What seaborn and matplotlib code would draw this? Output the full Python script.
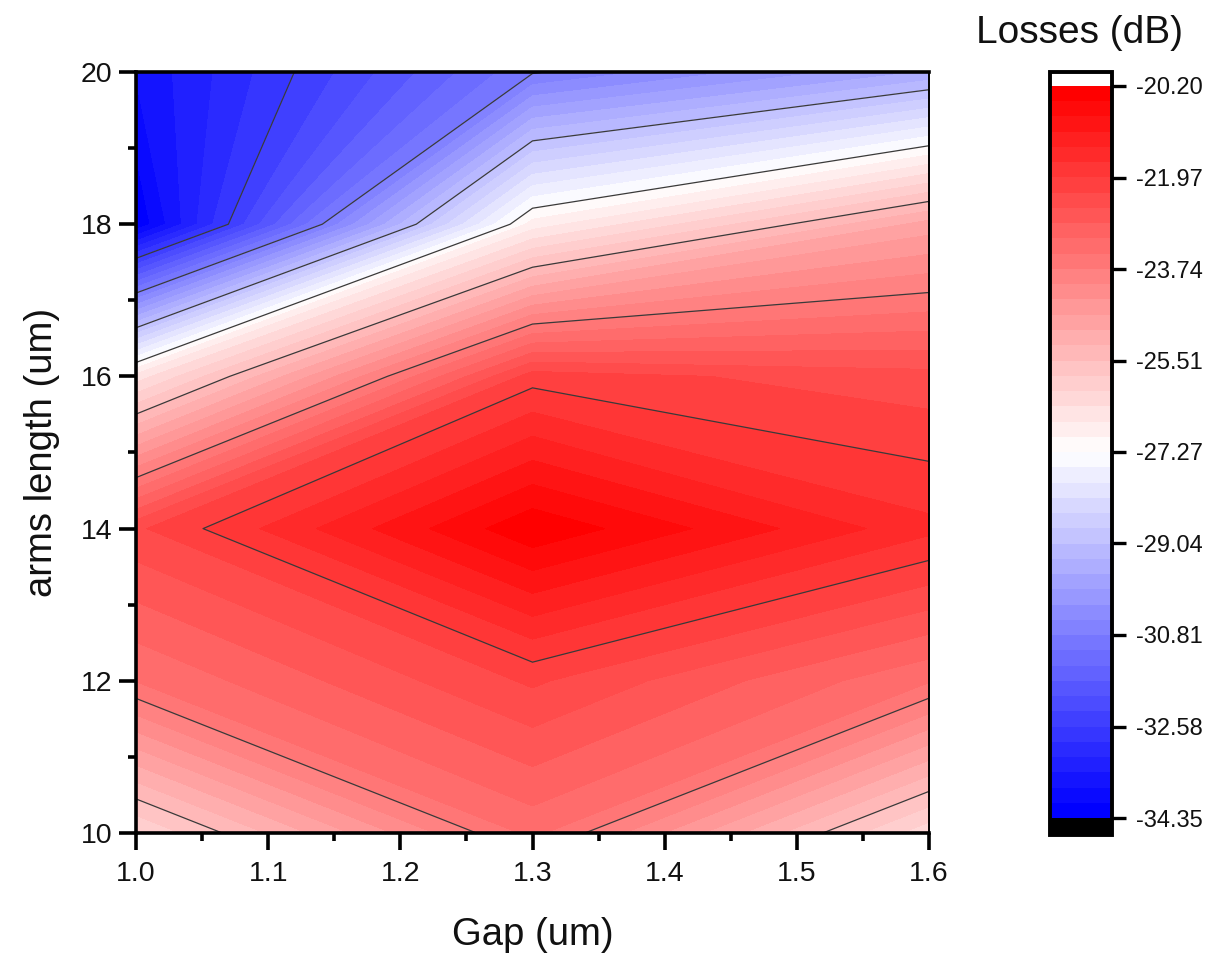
import numpy as np
import matplotlib
matplotlib.use("Agg")
import matplotlib.pyplot as plt
from matplotlib.colors import ListedColormap
from matplotlib.ticker import MultipleLocator
import seaborn as sns

sns.set_theme(style="ticks")
plt.rcParams.update({
    "font.family": ["Liberation Sans", "DejaVu Sans"],
    "text.color": "#111111",
    "axes.labelcolor": "#111111",
    "axes.edgecolor": "black",
    "xtick.color": "black",
    "ytick.color": "black",
    "xtick.labelcolor": "#111111",
    "ytick.labelcolor": "#111111",
})

# data
gap = [1.0, 1.3, 1.6]
arms = [10, 12, 14, 16, 18, 20]
loss_gap_10 = [-26.11, -23.43, -22.32, -26.56, -34.32, -33.73]
loss_gap_13 = [-23.35, -22.21, -20.25, -22.11, -26.85, -30.85]
loss_gap_16 = [-26.30, -23.41, -21.59, -22.45, -24.79, -29.60]

bar_ticks = [-34.35, -32.58, -30.81, -29.04, -27.27, -25.51, -23.74, -21.97, -20.20]
bar_labels = ["-34.35", "-32.58", "-30.81", "-29.04", "-27.27", "-25.51", "-23.74", "-21.97", "-20.20"]
line_levels = bar_ticks[1:-1]
n_bands = 48

W, H = 1213, 955


def px_axes(fig, left, top, right, bottom):
    return fig.add_axes([left / W, 1 - bottom / H, (right - left) / W, (bottom - top) / H])


Z = np.array([loss_gap_10, loss_gap_13, loss_gap_16]).T
band_levels = np.linspace(bar_ticks[0], bar_ticks[-1], n_bands + 1)
colors = sns.blend_palette(["#0000ff", "#ffffff", "#ff0000"], n_colors=n_bands)
cmap = ListedColormap(colors).with_extremes(over="white", under="black")

fig = plt.figure(figsize=(W / 100, H / 100), dpi=100)
ax = px_axes(fig, 136, 72, 929, 833)

cf = ax.contourf(gap, arms, Z, levels=band_levels, cmap=cmap, extend="both")
ax.contour(gap, arms, Z, levels=line_levels, colors="#3a3a3a", linewidths=0.9, linestyles="solid")

ax.set_xlim(1.0, 1.6)
ax.set_ylim(10, 20)
ax.xaxis.set_major_locator(MultipleLocator(0.1))
ax.xaxis.set_minor_locator(MultipleLocator(0.05))
ax.yaxis.set_major_locator(MultipleLocator(2))
ax.yaxis.set_minor_locator(MultipleLocator(1))
ax.tick_params(which="major", length=12, width=2.6, labelsize=20.5)
ax.tick_params(axis="x", which="major", pad=8)
ax.tick_params(axis="y", which="major", pad=5)
ax.tick_params(which="minor", length=6, width=2.6)
for s in ax.spines.values():
    s.set_linewidth(2.6)
ax.spines["right"].set_linewidth(1.4)

ax.set_xlabel("Gap (um)", fontsize=27.5, labelpad=22)
ax.set_ylabel("arms length (um)", fontsize=27.5, labelpad=15)

cax = px_axes(fig, 1050, 72, 1112, 835)
cb = fig.colorbar(cf, cax=cax, extend="both", extendrect=True, extendfrac=[0.023, 0.019])
cb.set_ticks(bar_ticks, labels=bar_labels)
cb.minorticks_off()
cb.outline.set_linewidth(2.8)
cb.ax.tick_params(length=10, width=2.4, labelsize=17, pad=7)

fig.text(1080 / W, 1 - 33 / H, "Losses (dB)", fontsize=28, ha="center", va="center")

fig.savefig("out.png", dpi=100)
